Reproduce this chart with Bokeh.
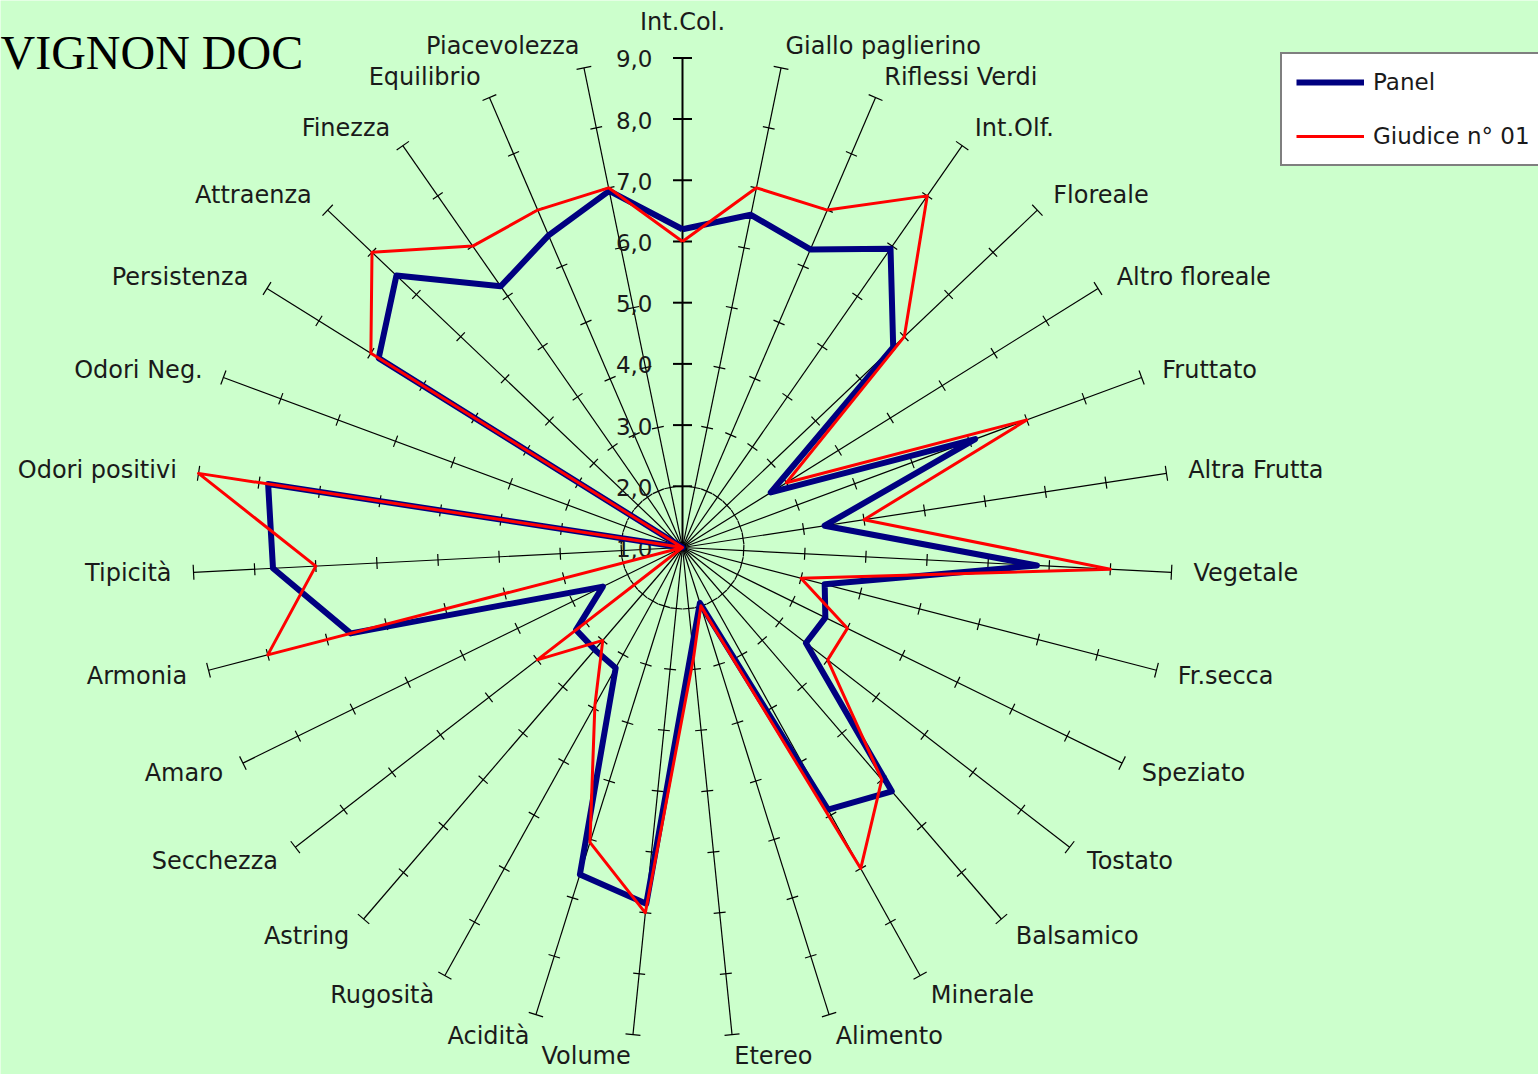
import numpy as np
from bokeh.plotting import figure
from bokeh.models import Range1d, Legend, LegendItem, Label
from bokeh.core.properties import value
from bokeh.embed import file_html
from bokeh.resources import INLINE

# ---------------- data ----------------
categories = ["Int.Col.", "Giallo paglierino", "Riflessi Verdi", "Int.Olf.", "Floreale",
              "Altro floreale", "Fruttato", "Altra Frutta", "Vegetale", "Fr.secca",
              "Speziato", "Tostato", "Balsamico", "Minerale", "Alimento", "Etereo",
              "Volume", "Acidità", "Rugosità", "Astring", "Secchezza", "Amaro",
              "Armonia", "Tipicità", "Odori positivi", "Odori Neg.", "Persistenza",
              "Attraenza", "Finezza", "Equilibrio", "Piacevolezza"]
panel = [6.2, 6.55, 6.3, 6.95, 5.75, 2.7, 6.1, 3.35, 6.8, 3.4,
         3.6, 3.55, 6.25, 5.9, 1.95, 2.6, 6.85, 6.6, 3.25, 3.2,
         3.2, 2.45, 6.6, 7.7, 7.85, 1.0, 6.85, 7.45, 6.2, 6.55, 6.95]
giudice = [6.0, 7.0, 7.0, 8.0, 6.0, 3.0, 7.0, 4.0, 8.0, 3.0,
           4.0, 4.0, 6.0, 7.0, 2.0, 2.8, 7.0, 6.05, 3.95, 3.0,
           4.0, 1.0, 8.0, 7.0, 9.0, 1.0, 7.0, 8.0, 7.0, 7.0, 7.0]
value_ticks = [1, 2, 3, 4, 5, 6, 7, 8, 9]
value_tick_labels = ["1,0", "2,0", "3,0", "4,0", "5,0", "6,0", "7,0", "8,0", "9,0"]
series_names = ["Panel", "Giudice n° 01"]
title_text = "VIGNON DOC"

# ---------------- geometry ----------------
W, H = 1538, 1074
CX, CY = 682, 547          # pixel position of the radar centre
PX = 61.2                  # pixels per value unit
VMIN, VMAX = value_ticks[0], value_ticks[-1]
RMAX = VMAX - VMIN

n = len(categories)
theta = np.array([2 * np.pi * i / n for i in range(n)])
sn, cs = np.sin(theta), np.cos(theta)

BG = "#CCFFCC"
p = figure(width=W, height=H, output_backend="svg", toolbar_location=None,
           x_range=Range1d(-CX / PX, (W - CX) / PX),
           y_range=Range1d(-(H - CY) / PX, CY / PX),
           min_border=0, background_fill_color=BG, border_fill_color=BG)
p.axis.visible = False
p.grid.visible = False
p.outline_line_color = None

# spokes
p.segment(x0=[0] * (n - 1), y0=[0] * (n - 1), x1=list(RMAX * sn[1:]), y1=list(RMAX * cs[1:]),
          line_color="#000000", line_width=1.2)
p.segment(x0=[0], y0=[0], x1=[RMAX * sn[0]], y1=[RMAX * cs[0]], line_color="#000000", line_width=2)

# tick marks
tx0, ty0, tx1, ty1, tw = [], [], [], [], []
for i in range(n):
    for v in value_ticks[1:]:
        r = v - VMIN
        half = (9.5 if i == 0 else (7.5 if v == VMAX else 6.0)) / PX
        px_, py_ = r * sn[i], r * cs[i]
        nx, ny = cs[i], -sn[i]
        tx0.append(px_ - half * nx); ty0.append(py_ - half * ny)
        tx1.append(px_ + half * nx); ty1.append(py_ + half * ny)
        tw.append(2 if i == 0 else 1.2)
p.segment(x0=tx0, y0=ty0, x1=tx1, y1=ty1, line_color="#000000", line_width=tw)

# value labels on the vertical axis
p.text(x=[0] * len(value_ticks), y=[v - VMIN for v in value_ticks], text=value_tick_labels,
       x_offset=-30, y_offset=1, text_align="right", text_baseline="middle",
       text_font=value("DejaVu Sans"), text_font_size="23px", text_color="#1a1a1a")

# category labels
RL = RMAX + 22 / PX
groups = {"left": dict(x=[], y=[], t=[]), "right": dict(x=[], y=[], t=[]), "top": dict(x=[], y=[], t=[])}
for i, c in enumerate(categories):
    x, y = RL * sn[i], RL * cs[i]
    if i == 0:
        g = "top"
    elif sn[i] > 0:
        g = "left"
    else:
        g = "right"
    groups[g]["x"].append(x); groups[g]["y"].append(y); groups[g]["t"].append(c)
for g, align, base in [("left", "left", "middle"), ("right", "right", "middle"), ("top", "center", "bottom")]:
    p.text(x=groups[g]["x"], y=groups[g]["y"], text=groups[g]["t"], text_align=align,
           text_baseline=base, text_font=value("DejaVu Sans"), text_font_size="24px",
           text_color="#1a1a1a")

# series
def closed_xy(vals):
    r = np.array(vals) - VMIN
    xs = list(r * sn) + [r[0] * sn[0]]
    ys = list(r * cs) + [r[0] * cs[0]]
    return xs, ys

bx, by = closed_xy(panel)
rx, ry = closed_xy(giudice)
r_panel = p.line(bx, by, line_color="#000080", line_width=6, line_join="round")
r_giud = p.line(rx, ry, line_color="#FF0000", line_width=3, line_join="round")

legend = Legend(items=[LegendItem(label=series_names[0], renderers=[r_panel]),
                       LegendItem(label=series_names[1], renderers=[r_giud])],
                location=(1280, H - 166), orientation="vertical",
                glyph_width=68, glyph_height=28, label_height=28, spacing=26, padding=14,
                margin=0, label_standoff=9,
                label_text_font="DejaVu Sans", label_text_font_size="23px",
                label_text_color="#1a1a1a",
                border_line_color="#000000", border_line_width=2,
                background_fill_color="#FFFFFF", background_fill_alpha=1.0)
p.add_layout(legend)

p.add_layout(Label(x=0, y=H - 52, x_units="screen", y_units="screen", text=title_text,
                   text_font="Liberation Serif", text_font_size="48px", text_color="#000000",
                   text_baseline="alphabetic"))

open("out.html", "w").write(file_html(p, INLINE))
